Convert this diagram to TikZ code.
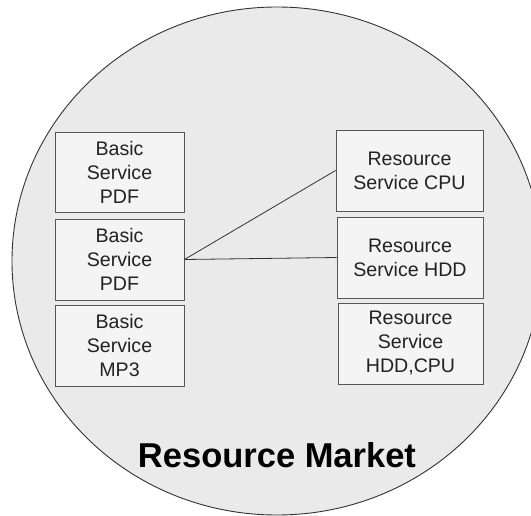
\documentclass[tikz,border=0pt]{standalone}
\usepackage{fontspec}
\setmainfont{Liberation Sans}
\definecolor{marketfill}{HTML}{EAEAEA}
\definecolor{boxfill}{HTML}{F4F4F4}
\definecolor{boxline}{HTML}{555555}
\definecolor{textcol}{HTML}{222222}
\definecolor{edgecol}{HTML}{333333}
\tikzset{
  svcbox/.style={draw=boxline, fill=boxfill, line width=0.9pt, inner sep=0pt,
    align=center, text=textcol, font=\fontsize{19.6}{24}\selectfont},
  link/.style={draw=edgecol, line width=0.8pt},
}
\begin{document}
\begin{tikzpicture}[x=1pt,y=-1pt]
\useasboundingbox (0,0) rectangle (531,516);
\draw[draw=edgecol, fill=marketfill, line width=0.9pt] (277,261) ellipse [x radius=265, y radius=254];
\node[svcbox, minimum width=129, minimum height=80] (b1) at (119.5,172) {Basic\\Service\\PDF};
\node[svcbox, minimum width=129, minimum height=81] (b2) at (119.5,259.5) {Basic\\Service\\PDF};
\node[svcbox, minimum width=129, minimum height=81] (b3) at (119.5,345.5) {Basic\\Service\\MP3};
\node[svcbox, minimum width=147, minimum height=81] (rcpu) at (409.5,170.5) {Resource\\Service CPU};
\node[svcbox, minimum width=146, minimum height=81] (rhdd) at (410,257.5) {Resource\\Service HDD};
\node[svcbox, minimum width=145, minimum height=81] (rboth) at (410.5,343.5) {Resource\\Service\\HDD,CPU};
\draw[link] (b2.east) -- (rcpu.west);
\draw[link] (b2.east) -- (rhdd.west);
\node[anchor=base, inner sep=0pt, text=black, font=\fontsize{34.5}{38}\selectfont\bfseries] (title) at (277,467) {Resource Market};
\end{tikzpicture}
\end{document}
